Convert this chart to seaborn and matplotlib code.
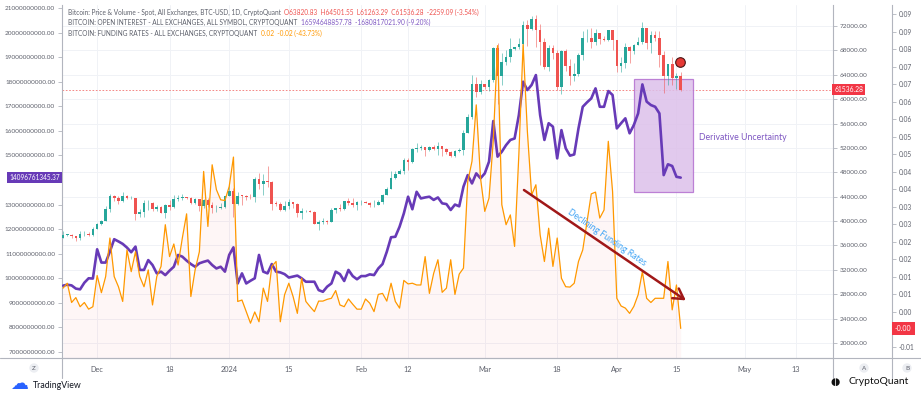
import matplotlib
matplotlib.use("Agg")
import matplotlib.pyplot as plt
import matplotlib.dates as mdates
from matplotlib.lines import Line2D
from matplotlib.patches import Rectangle
import seaborn as sns
import pandas as pd
import numpy as np

# daily candles, chart day 0 = 2023-11-23
start_day = "2023-11-23"
first_open = 37300
closes = [37720, 37790, 37480, 37250, 37830, 37860, 37720,
          38690, 39460, 39980, 41980, 44080, 43780, 43290, 44170, 43720, 43790, 41240, 41450, 42890, 43020, 41930,
          42240, 41360, 42650, 42270, 43650, 43860, 43990, 43740, 43020, 43610, 42520, 43440, 42580, 42070, 42140, 42280,
          44180, 44950, 42850, 44180, 44160, 43970, 43930, 46970, 46120, 46630, 46350, 42850, 42840, 41800, 42510,
          43150, 42740, 41260, 41620, 41670, 41570, 39510, 39850, 40080, 39930, 41820, 42120, 42030, 43300, 42940, 42580,
          43080, 43190, 43000, 42580, 42660, 43090, 44340, 45300, 47150, 47770, 48290, 49960, 49700, 51800, 51910,
          52160, 51660, 52120, 51780, 52260, 51840, 51300, 50730, 51570, 51730, 54520, 57090, 62500, 61170,
          62440, 62030, 63170, 68330, 63800, 66110, 66930, 68300, 68500, 69020, 72120, 71480, 73080, 71400, 69400,
          65300, 68390, 67610, 61930, 67840, 65500, 63800, 64100, 67210, 69960, 69990, 69450, 70780, 69900, 69650, 71330,
          69700, 65450, 65980, 68500, 67840, 68900, 69360, 71620, 69140, 70590, 70060, 67200, 63800, 65740, 63430,
          63820, 61536.28]
highs = [38420, 37890, 37840, 37570, 38380, 38410, 38150,
         38960, 39680, 40190, 42410, 44410, 44270, 44050, 44700, 44350, 44040, 43800, 42050, 43400, 43410, 43080,
         42700, 42440, 42750, 43480, 44240, 44290, 44380, 43990, 43940, 43790, 43600, 43680, 43790, 43110, 42600, 42900,
         44180, 45880, 45500, 44770, 44340, 44230, 44480, 47220, 47890, 47690, 48970, 46520, 43260, 43080, 43340,
         43580, 43190, 42930, 42130, 41850, 41860, 41660, 40150, 40520, 40240, 42200, 42200, 42780, 43310, 43850, 43720,
         43240, 43420, 43370, 43120, 43520, 43390, 44520, 45590, 48190, 48150, 48580, 50350, 50380, 52000, 52820,
         52540, 52200, 52380, 52490, 52930, 52340, 52020, 51500, 51680, 51950, 54920, 57550, 63910, 63660,
         63200, 62400, 63250, 68490, 69200, 67640, 67990, 69990, 68620, 70010, 72800, 72970, 73650, 73780, 72400,
         70040, 68920, 68930, 68090, 68100, 68160, 66630, 65960, 67600, 71150, 71540, 71730, 71550, 70900, 70300, 71370,
         71340, 69700, 66890, 69270, 68700, 69000, 70270, 72720, 71730, 71110, 71230, 71200, 67900, 65830, 66850,
         64350, 64501.55]
lows = [37260, 37600, 37160, 36730, 36880, 37610, 37520,
        37630, 38650, 39290, 39980, 41420, 43350, 42840, 43090, 43620, 43590, 40230, 40680, 40650, 41790, 41680,
        41730, 41260, 40530, 41840, 42220, 43350, 43420, 43570, 42800, 42780, 41680, 42110, 42320, 41300, 41560, 41980,
        42190, 44160, 40750, 42640, 42630, 43430, 43600, 43200, 45250, 44340, 45650, 41750, 42440, 41720, 41720,
        42050, 42200, 40680, 40280, 41450, 41500, 39460, 38550, 39480, 39520, 39820, 41410, 41650, 41800, 42700, 42300,
        41880, 42560, 42900, 42240, 42260, 42580, 42790, 44330, 45250, 46880, 47660, 47730, 48350, 49550, 51300,
        51600, 50640, 51480, 51640, 50800, 50650, 50950, 50540, 50590, 51280, 50900, 54450, 56740, 60420,
        60790, 61640, 61320, 62850, 59220, 62400, 65560, 66150, 68000, 68240, 67190, 68700, 71340, 68600, 65600,
        64890, 64550, 66600, 61560, 60800, 64560, 62330, 63000, 63850, 66400, 69300, 68390, 68960, 69100, 69470, 69600,
        68120, 64500, 64500, 65090, 66000, 67450, 68800, 69100, 68230, 67500, 69550, 65200, 61000, 62300, 62400,
        61700, 61263.29]

# open interest, billions USD
open_interest_bn = [9.70, 9.74, 9.71, 9.58, 9.55, 9.82, 10.00, 9.99, 11.18, 10.64,
                    10.64, 11.09, 11.59, 11.50, 11.40, 11.25, 11.06, 11.29, 10.34, 10.34,
                    10.74, 10.54, 10.20, 10.27, 10.13, 10.31, 10.47, 10.95, 10.88, 10.72,
                    10.58, 10.47, 10.61, 10.67, 10.72, 10.54, 10.40, 10.47, 10.27, 10.95,
                    11.26, 9.79, 10.20, 9.79, 9.90, 10.00, 10.95, 10.27, 10.20, 10.58,
                    10.27, 10.24, 10.17, 10.03, 10.07, 10.11, 10.00, 9.86, 9.86, 9.86,
                    9.52, 9.45, 9.66, 9.79, 10.27, 10.17, 9.89, 10.34, 10.09, 9.96,
                    10.09, 10.09, 10.16, 10.13, 10.40, 10.58, 11.08, 11.67, 11.69, 12.10,
                    12.64, 13.32, 12.81, 13.52, 13.25, 13.29, 13.32, 13.19, 13.29, 13.05,
                    13.02, 12.78, 13.00, 12.93, 13.73, 14.20, 13.86, 14.27, 14.07, 14.27,
                    14.75, 16.40, 14.95, 15.15, 15.42, 15.63, 15.69, 16.64, 18.00, 17.66,
                    17.87, 18.27, 16.64, 15.63, 16.31, 16.17, 14.88, 16.03, 15.29, 14.99,
                    15.04, 16.10, 16.98, 17.16, 17.32, 17.73, 16.98, 16.98, 17.62, 17.46,
                    16.10, 16.31, 16.51, 15.90, 16.24, 16.71, 17.89, 17.19, 17.05, 16.98,
                    16.71, 14.20, 14.64, 14.57, 14.13, 14.09676134537]

funding_rates = [0.0068, 0.0082, 0.0027, 0.0041, 0.0015, 0.0027, 0.0008, 0.0015, 0.0104, 0.0055,
                 0.0101, 0.0211, 0.0101, 0.0072, 0.0030, 0.0177, 0.0115, 0.0172, 0.0101, 0.0072,
                 0.0120, 0.0020, 0.0101, 0.0130, 0.0249, 0.0158, 0.0194, 0.0134, 0.0211, 0.0280,
                 0.0044, 0.0120, 0.0172, 0.0401, 0.0244, 0.0420, 0.0349, 0.0320, 0.0318, 0.0358,
                 0.0442, 0.0030, 0.0034, 0.0001, -0.0032, 0.0000, -0.0028, 0.0068, 0.0030, 0.0130,
                 0.0144, -0.0028, 0.0049, 0.0082, 0.0044, -0.0004, 0.0096, 0.0030, 0.0015, 0.0001,
                 0.0031, 0.0031, 0.0036, 0.0039, 0.0061, 0.0020, 0.0015, 0.0037, 0.0022, 0.0008,
                 0.0008, 0.0037, 0.0025, 0.0001, 0.0050, 0.0053, 0.0031, 0.0082, 0.0030, 0.0011,
                 0.0090, 0.0080, 0.0082, 0.0077, 0.0077, 0.0158, 0.0053, 0.0110, 0.0149, 0.0056,
                 0.0068, 0.0149, 0.0050, 0.0108, 0.0125, 0.0372, 0.0430, 0.0591, 0.0382, 0.0287,
                 0.0325, 0.0490, 0.0760, 0.0306, 0.0249, 0.0277, 0.0187, 0.0449, 0.0763, 0.0515,
                 0.0334, 0.0363, 0.0220, 0.0144, 0.0239, 0.0130, 0.0211, 0.0096, 0.0072, 0.0071,
                 0.0082, 0.0144, 0.0177, 0.0258, 0.0337, 0.0342, 0.0268, 0.0291, 0.0487, 0.0344,
                 0.0039, 0.0017, 0.0011, -0.0004, 0.0016, 0.0049, 0.0115, 0.0039, 0.0027, 0.0039,
                 0.0039, 0.0039, 0.0144, 0.0006, 0.0077, -0.0047]

price_ticks = [20000, 24000, 28000, 32000, 36000, 40000, 44000, 48000, 52000, 56000, 60000, 64000, 68000, 72000]
oi_ticks_bn = [7, 8, 9, 10, 11, 12, 13, 14, 15, 16, 17, 18, 19, 20, 21]
funding_ticks = [-0.010, -0.005, 0.000, 0.005, 0.010, 0.015, 0.020, 0.025, 0.030, 0.035,
                 0.040, 0.045, 0.050, 0.055, 0.060, 0.065, 0.070, 0.075, 0.080, 0.085]
# the -0.005 label sits under the last-value tag, so it is left blank
funding_tick_labels = ["-0.01", "", "0.00", "0.01", "0.01", "0.02", "0.02", "0.03", "0.03", "0.04",
                       "0.04", "0.05", "0.05", "0.06", "0.06", "0.07", "0.07", "0.08", "0.09", "0.09"]
x_tick_days = ["2023-12-01", "2023-12-18", "2024-01-01", "2024-01-15", "2024-02-01", "2024-02-12",
               "2024-03-01", "2024-03-18", "2024-04-01", "2024-04-15", "2024-05-01", "2024-05-13"]
x_tick_labels = ["Dec", "18", "2024", "15", "Feb", "12", "Mar", "18", "Apr", "15", "May", "13"]

sns.set_theme(style="white")
plt.rcParams["font.family"] = ["Lato", "DejaVu Sans"]

UP = "#26a69a"
DOWN = "#ef5350"
PURPLE = "#673ab7"
ORANGE = "#ff9800"
AXIS = "#b2b5be"
TXT = "#5d606b"

dates = pd.date_range(start_day, periods=len(closes), freq="D")
df = pd.DataFrame({"date": dates, "close": closes, "high": highs, "low": lows,
                   "oi": np.array(open_interest_bn) * 1e9, "funding": funding_rates})
df["open"] = [first_open] + closes[:-1]
df["high"] = df[["high", "open", "close"]].max(axis=1)
df["low"] = df[["low", "open", "close"]].min(axis=1)

W, H = 921, 395
L, R, T, B = 62, 833, 5, 358
fig = plt.figure(figsize=(W / 100, H / 100), dpi=100)
fig.patch.set_facecolor("white")
ax = fig.add_axes([L / W, 1 - B / H, (R - L) / W, (B - T) / H])
ax_oi = ax.twinx()
ax_fr = ax.twinx()
ax_top = ax.twinx()

x0 = dates[0]


def day(n):
    return mdates.date2num(x0 + pd.Timedelta(days=n))


# highlight box sits under candles and lines
ax.add_patch(Rectangle((day(134.1), 44830), 13.85, 18480, fc="#dcc0ea", ec="#b36fd0",
                       lw=0.9, alpha=0.85, zorder=1.5))

# candles on the price axis
cols = np.where(df.close >= df.open, UP, DOWN)
ax.vlines(df.date, df.low, df.high, colors=cols, lw=0.7, alpha=0.55, zorder=2)
body = (df.close - df.open).abs().clip(lower=90)
ax.bar(df.date, body, bottom=np.minimum(df.open, df.close), width=0.62, color=cols, lw=0, zorder=3)
ax.axhline(df.close.iloc[-1], color=DOWN, lw=0.6, ls=(0, (2, 2)), alpha=0.8, zorder=1)
ax.set_ylim(17550, 75440)

# open interest + funding rates
sns.lineplot(data=df, x="date", y="oi", ax=ax_oi, color=PURPLE, lw=1.9)
ax_oi.set_ylim(6.756e9, 21.122e9)
ax_fr.fill_between(df.date, df.funding, -0.01314, color="#f23645", alpha=0.045, lw=0)
sns.lineplot(data=df, x="date", y="funding", ax=ax_fr, color=ORANGE, lw=0.9)
ax_fr.set_ylim(-0.01314, 0.0876)

ax.set_xlim(x0 - pd.Timedelta(hours=6), x0 + pd.Timedelta(days=180.75))

for a in (ax, ax_oi, ax_fr, ax_top):
    a.set_xlabel("")
    a.set_ylabel("")
    for s in a.spines.values():
        s.set_visible(False)

ax.grid(True, color="#f0f2f6", lw=0.7)
ax.set_axisbelow(True)
for side in ("left", "right", "bottom"):
    ax.spines[side].set_visible(True)
    ax.spines[side].set_color(AXIS)
    ax.spines[side].set_linewidth(0.8)

ax.yaxis.tick_right()
ax.set_yticks(price_ticks, [f"{v:.2f}" for v in price_ticks])
ax.tick_params(axis="y", labelsize=4.6, labelcolor=TXT, color=AXIS, length=3, width=0.6, pad=2)
ax.set_xticks(pd.to_datetime(x_tick_days), x_tick_labels)
ax.tick_params(axis="x", labelsize=5.3, labelcolor=TXT, length=0, pad=6)

ax_oi.yaxis.tick_left()
# 14e9 label is hidden under the purple last-value tag
oi_labels = ["" if v == 14 else f"{v * 1e9:.2f}" for v in oi_ticks_bn]
ax_oi.set_yticks([v * 1e9 for v in oi_ticks_bn], oi_labels)
ax_oi.tick_params(axis="y", labelsize=4.6, labelcolor=TXT, color=AXIS, length=3, width=0.6, pad=2)

b_pos = (892 - L) / (R - L)
ax_fr.spines["right"].set_visible(True)
ax_fr.spines["right"].set_position(("axes", b_pos))
ax_fr.spines["right"].set_color(AXIS)
ax_fr.spines["right"].set_linewidth(0.8)
ax_fr.set_yticks(funding_ticks, funding_tick_labels)
ax_fr.tick_params(axis="y", labelsize=4.8, labelcolor=TXT, color=AXIS, length=3, width=0.6, pad=2)

# last value tags
tag = dict(boxstyle="square,pad=0.3", ec="none")
ax.annotate(f"{df.close.iloc[-1]:.2f}", xy=(1, df.close.iloc[-1]), xycoords=("axes fraction", "data"),
            xytext=(1, 0), textcoords="offset points", ha="left", va="center", fontsize=4.9,
            color="white", bbox=dict(tag, fc="#f23645"), annotation_clip=False, zorder=10)
ax_oi.annotate(f"{df.oi.iloc[-1]:.2f}", xy=(0, df.oi.iloc[-1]), xycoords=("axes fraction", "data"),
               xytext=(-1.5, 0), textcoords="offset points", ha="right", va="center", fontsize=4.7,
               color="white", bbox=dict(tag, fc=PURPLE), annotation_clip=False, zorder=10)
ax_fr.annotate(f"{df.funding.iloc[-1]:.2f}", xy=(b_pos, df.funding.iloc[-1]), xycoords=("axes fraction", "data"),
               xytext=(2, 0), textcoords="offset points", ha="left", va="center", fontsize=5.0,
               color="white", bbox=dict(tag, fc="#f23645", boxstyle="square,pad=0.45"),
               annotation_clip=False, zorder=10)

# drawings on top
ax_top.set_ylim(ax.get_ylim())
ax_top.axis("off")
ax_top.text(day(149.3), 53630, "Derivative Uncertainty", color="#7e57c2", fontsize=6.3,
            ha="left", va="center")
ax_top.annotate("", xy=(day(146.2), 27000), xytext=(day(108.2), 45100),
                arrowprops=dict(arrowstyle="->,head_length=0.6,head_width=0.35", color="#a01818",
                                lw=1.8, shrinkA=0, shrinkB=0))
ax_top.text(day(127.7), 37300, "Declining Funding Rates", color="#42a5f5", fontsize=6.3,
            rotation=-34.5, ha="center", va="center", rotation_mode="anchor")
ax_top.scatter([day(144.8)], [66100], s=48, color="#e53935", edgecolor="#4a1414", lw=0.8, zorder=5)


# legend header
def header_line(y_px, parts, size=4.7):
    r = fig.canvas.get_renderer()
    x = 68 / W
    for s, c in parts:
        t = fig.text(x, 1 - y_px / H, s, color=c, fontsize=size, va="center", ha="left")
        x += t.get_window_extent(renderer=r).width / fig.bbox.width


header_line(12, [("Bitcoin: Price & Volume - Spot, All Exchanges, BTC-USD, 1D, CryptoQuant  ", TXT),
                 ("O63820.83  H64501.55  L61263.29  C61536.28  -2259.09 (-3.54%)", DOWN)])
header_line(22.5, [("BITCOIN: OPEN INTEREST - ALL EXCHANGES, ALL SYMBOL, CRYPTOQUANT  ", TXT),
                   ("16594648857.78  -1680817021.90 (-9.20%)", "#7e57c2")])
header_line(33, [("BITCOIN: FUNDING RATES - ALL EXCHANGES, CRYPTOQUANT  ", TXT),
                 ("0.02  -0.02 (-43.73%)", ORANGE)])

# frame lines below the plot
for xp in (L, R, 892):
    fig.add_artist(Line2D([xp / W, xp / W], [1 - 378 / H, 1 - B / H], color=AXIS, lw=0.8))
fig.add_artist(Line2D([0, 1], [1 - B / H, 1 - B / H], color=AXIS, lw=0.8))

for xp, s in ((34, "Z"), (864, "A"), (907, "B")):
    fig.text(xp / W, 1 - 368 / H, s, fontsize=4.5, color=TXT, ha="center", va="center",
             bbox=dict(boxstyle="circle,pad=0.35", fc="#eceef2", ec="none"))

fig.text(10 / W, 1 - 384 / H, "\u2601", fontsize=13, color="#2962ff", ha="left", va="center",
         family="DejaVu Sans")
fig.text(33 / W, 1 - 385 / H, "TradingView", fontsize=6.3, color="#131722", ha="left", va="center")
fig.text(830 / W, 1 - 382 / H, "\u25d6\u25d7", fontsize=7, color="#111111", ha="left", va="center",
         family="DejaVu Sans")
fig.text(848 / W, 1 - 382 / H, "CryptoQuant", fontsize=7.5, color="#111111", ha="left", va="center")

fig.savefig("out.png", dpi=100, facecolor="white")
